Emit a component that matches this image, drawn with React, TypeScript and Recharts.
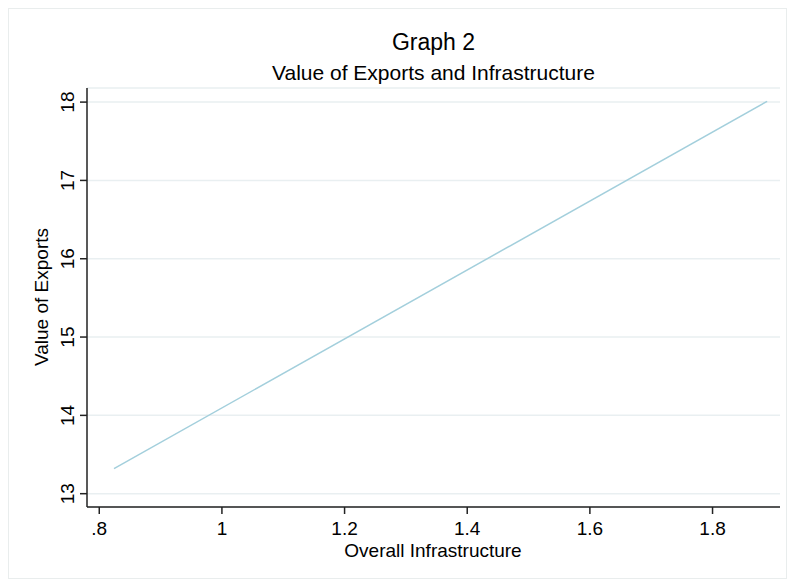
import { LineChart, Line, XAxis, YAxis, CartesianGrid, Label } from "recharts";

// fitted line endpoints (overall infrastructure -> value of exports)
const infrastructure = [0.824, 1.889];
const exportsValue = [13.32, 18.01];

const xTicks = [0.8, 1, 1.2, 1.4, 1.6, 1.8];
const yTicks = [13, 14, 15, 16, 17, 18];

const data = infrastructure.map((x, i) => ({ x, y: exportsValue[i] }));

const FONT = "'Liberation Sans', Arial, Helvetica, sans-serif";

const fmtX = (v: number) => (v < 1 ? String(v).replace(/^0/, "") : String(v));

const XTick = (props: any) => {
  const { x, payload } = props;
  return (
    <text x={x} y={535} textAnchor="middle" fontSize={19} fontFamily={FONT} fill="#000">
      {fmtX(payload.value)}
    </text>
  );
};

const YTick = (props: any) => {
  const { y, payload } = props;
  return (
    <text
      x={74}
      y={y}
      transform={`rotate(-90, 74, ${y})`}
      textAnchor="middle"
      fontSize={19}
      fontFamily={FONT}
      fill="#000"
    >
      {payload.value}
    </text>
  );
};

export default function App() {
  return (
    <div style={{ position: "absolute", left: 0, top: 0, width: 787, height: 580, background: "#fff" }}>
      <div
        style={{
          position: "absolute",
          left: 8,
          top: 8,
          width: 777,
          height: 569,
          border: "1px solid #e9eded",
        }}
      />
      <div
        style={{
          position: "absolute",
          left: 87,
          width: 693,
          top: 28,
          textAlign: "center",
          fontFamily: FONT,
          fontSize: 23,
          lineHeight: "28px",
          color: "#000",
        }}
      >
        Graph 2
      </div>
      <div
        style={{
          position: "absolute",
          left: 87,
          width: 693,
          top: 60,
          textAlign: "center",
          fontFamily: FONT,
          fontSize: 21,
          lineHeight: "26px",
          color: "#000",
        }}
      >
        Value of Exports and Infrastructure
      </div>
      <LineChart
        width={787}
        height={580}
        data={data}
        margin={{ top: 88, right: 7, left: 0, bottom: 0 }}
        style={{ position: "absolute", left: 0, top: 0 }}
      >
        <CartesianGrid vertical={false} stroke="#e9eff1" strokeWidth={1.5} />
        <XAxis
          dataKey="x"
          type="number"
          domain={[0.78, 1.91]}
          ticks={xTicks}
          allowDataOverflow
          height={73}
          tickSize={7}
          tick={<XTick />}
          stroke="#222"
          strokeWidth={1.5}
          tickLine={{ stroke: "#222", strokeWidth: 1.5 }}
        >
          <Label
            content={() => (
              <text x={433} y={557} textAnchor="middle" fontSize={19} fontFamily={FONT} fill="#000">
                Overall Infrastructure
              </text>
            )}
          />
        </XAxis>
        <YAxis
          dataKey="y"
          type="number"
          domain={[12.83, 18.18]}
          ticks={yTicks}
          allowDataOverflow
          width={87}
          tickSize={7}
          tick={<YTick />}
          stroke="#222"
          strokeWidth={1.5}
          tickLine={{ stroke: "#222", strokeWidth: 1.5 }}
        >
          <Label
            content={() => (
              <text
                x={48}
                y={297}
                transform="rotate(-90, 48, 297)"
                textAnchor="middle"
                fontSize={19}
                fontFamily={FONT}
                fill="#000"
              >
                Value of Exports
              </text>
            )}
          />
        </YAxis>
        <Line
          dataKey="y"
          stroke="#a3cfdc"
          strokeWidth={1.5}
          dot={false}
          isAnimationActive={false}
        />
      </LineChart>
    </div>
  );
}
